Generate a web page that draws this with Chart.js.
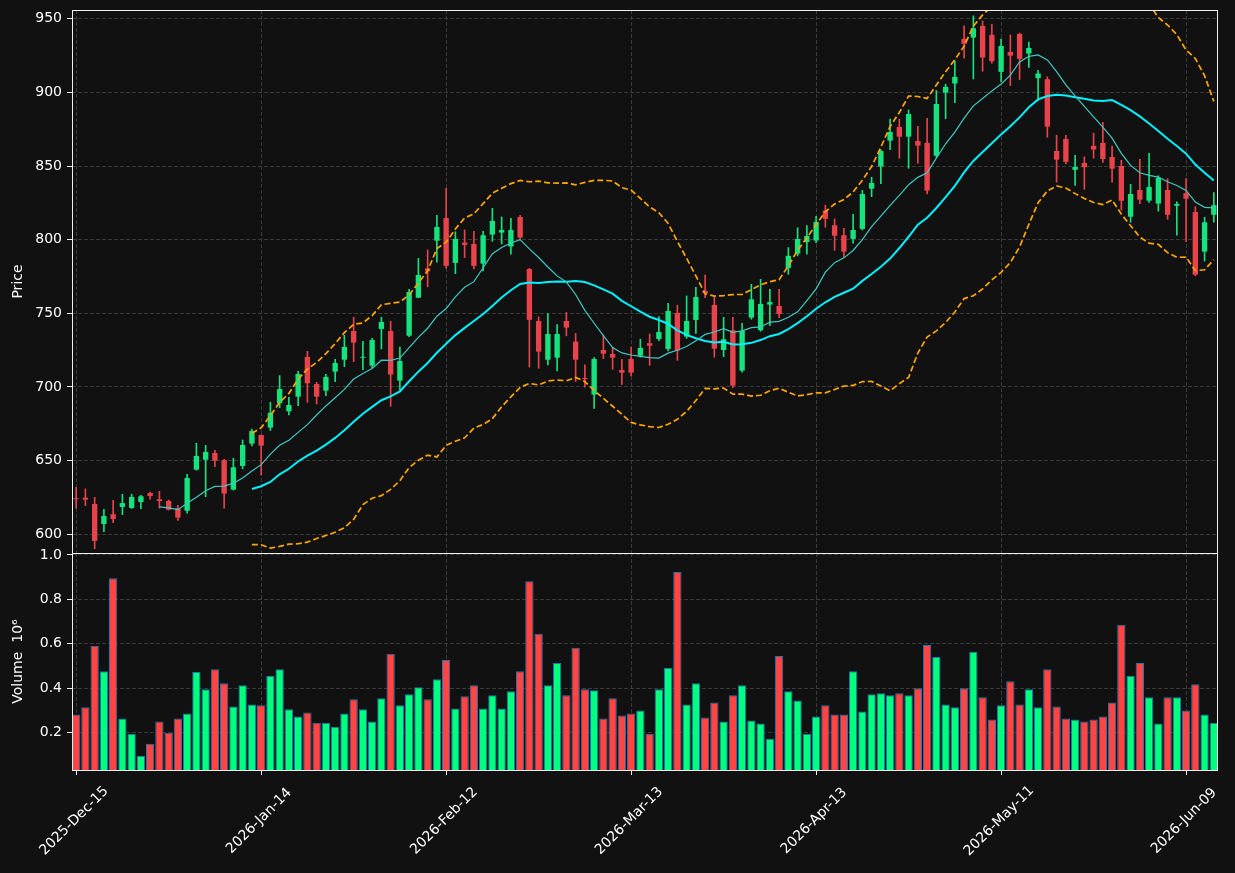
<!DOCTYPE html>
<html>
<head>
<meta charset="utf-8">
<title>Price and volume</title>
<script src="https://cdn.jsdelivr.net/npm/chart.js@4.4.1/dist/chart.umd.min.js"></script>
<style>
  html, body { margin: 0; padding: 0; background: #111111; }
  #wrap { position: relative; width: 1235px; height: 873px; }
  canvas { position: absolute; left: 0; }
  #priceChart { top: 0; }
  #volChart { top: 533px; }
</style>
</head>
<body>
<div id="wrap">
  <canvas id="priceChart" width="1235" height="553"></canvas>
  <canvas id="volChart" width="1235" height="340"></canvas>
</div>
<script>
// tick labels, one every 20 trading days
const tickEvery = 20;
const tickLabels = ['2025-Dec-15', '2026-Jan-14', '2026-Feb-12', '2026-Mar-13', '2026-Apr-13', '2026-May-11', '2026-Jun-09'];

// daily OHLC
const opens = [
  624.3, 624.8, 620.6, 607.0, 613.6, 618.5, 617.9, 621.9, 628.0, 623.8,
  622.6, 617.7, 616.0, 643.9, 650.6, 655.2, 650.4, 630.3, 646.4, 661.5,
  667.4, 672.4, 688.9, 683.5, 693.4, 720.4, 702.0, 697.5, 710.4, 718.5,
  738.0, 719.8, 714.5, 739.4, 738.0, 704.3, 734.8, 760.6, 780.5, 799.3,
  814.7, 784.2, 798.0, 797.1, 783.7, 803.4, 804.8, 795.3, 815.4, 780.1,
  744.8, 718.5, 719.9, 744.8, 730.8, 706.1, 694.8, 725.1, 722.4, 711.5,
  719.0, 721.2, 729.7, 732.6, 725.8, 750.3, 734.2, 745.5, 765.2, 755.7,
  725.1, 738.5, 711.1, 747.1, 738.5, 755.9, 755.0, 780.8, 790.5, 798.4,
  799.4, 819.7, 809.8, 803.0, 800.5, 807.3, 834.6, 849.6, 867.2, 876.5,
  869.9, 867.0, 865.7, 857.0, 899.8, 906.0, 936.3, 937.2, 945.1, 939.0,
  913.9, 927.4, 939.7, 926.3, 909.6, 908.9, 860.2, 868.4, 847.4, 852.1,
  863.7, 865.7, 856.1, 850.0, 815.6, 833.7, 826.5, 824.5, 833.7, 823.0,
  831.5, 818.8, 791.9, 816.9
];
const highs = [
  631.9, 630.8, 625.1, 617.0, 623.1, 627.2, 627.2, 626.5, 628.7, 629.2,
  623.3, 619.7, 640.7, 661.8, 660.4, 657.0, 650.9, 651.6, 664.0, 671.5,
  667.6, 689.6, 707.7, 693.0, 710.7, 724.2, 703.2, 708.6, 718.8, 735.1,
  747.3, 731.0, 733.0, 747.3, 744.6, 727.0, 766.3, 787.3, 793.0, 816.6,
  834.9, 805.4, 806.6, 805.7, 805.7, 821.3, 815.4, 814.5, 816.5, 780.5,
  747.6, 749.9, 742.3, 750.6, 736.4, 715.0, 720.0, 735.3, 727.0, 718.8,
  727.0, 732.4, 736.0, 747.8, 756.8, 755.5, 761.8, 767.7, 776.0, 761.3,
  747.3, 747.3, 743.2, 769.7, 773.1, 766.3, 766.3, 794.6, 808.1, 809.5,
  815.9, 823.4, 814.1, 807.7, 817.2, 833.5, 842.4, 861.0, 881.9, 881.7,
  888.0, 877.0, 882.4, 901.2, 905.5, 921.3, 945.1, 951.9, 948.5, 946.2,
  936.1, 939.0, 940.2, 934.2, 915.0, 910.6, 870.9, 870.9, 857.3, 856.2,
  872.3, 879.7, 863.6, 853.9, 837.6, 854.6, 858.6, 843.4, 841.4, 825.6,
  841.4, 822.4, 815.2, 831.9
];
const lows = [
  617.7, 619.4, 590.2, 601.8, 607.9, 613.3, 617.5, 617.4, 623.8, 617.7,
  616.5, 609.5, 614.3, 643.5, 625.5, 645.9, 617.7, 630.0, 644.5, 660.0,
  640.3, 670.5, 686.0, 681.0, 687.3, 689.6, 688.5, 694.1, 703.6, 713.8,
  717.2, 711.7, 713.0, 725.8, 686.9, 698.0, 734.1, 760.6, 768.1, 784.7,
  780.6, 776.9, 787.8, 780.1, 778.8, 798.9, 797.1, 790.1, 800.5, 713.5,
  712.7, 714.9, 710.9, 734.7, 703.7, 699.8, 685.5, 719.2, 712.0, 701.8,
  707.5, 720.2, 714.7, 731.4, 724.4, 718.1, 733.0, 736.4, 760.6, 720.2,
  720.6, 699.5, 710.0, 746.0, 737.8, 741.6, 747.1, 776.5, 789.0, 790.1,
  798.0, 808.4, 792.8, 788.1, 797.6, 806.5, 829.2, 838.0, 861.1, 855.3,
  848.5, 851.9, 831.0, 856.0, 882.1, 893.0, 923.2, 909.1, 914.3, 919.8,
  907.3, 904.6, 908.7, 917.0, 894.4, 869.5, 839.0, 851.4, 836.9, 834.2,
  855.3, 852.5, 839.0, 820.1, 811.8, 824.4, 825.3, 819.3, 813.8, 803.0,
  798.6, 775.5, 785.5, 811.8
];
const closes = [
  623.8, 623.5, 595.5, 612.4, 610.4, 621.2, 625.3, 625.8, 626.0, 622.6,
  616.7, 611.3, 638.2, 653.2, 655.9, 650.0, 627.6, 645.5, 660.6, 670.1,
  660.2, 682.5, 698.6, 687.8, 708.8, 702.5, 693.4, 706.8, 716.3, 727.2,
  730.1, 720.5, 731.9, 744.1, 708.4, 717.6, 764.5, 776.0, 778.5, 808.6,
  782.2, 800.5, 796.4, 782.2, 803.0, 812.7, 806.6, 806.6, 801.4, 745.6,
  724.0, 736.0, 736.0, 740.3, 718.5, 705.3, 719.0, 722.6, 719.9, 709.7,
  709.7, 726.5, 728.0, 737.3, 751.6, 724.7, 744.8, 761.1, 763.6, 726.0,
  732.4, 700.9, 738.0, 759.5, 756.4, 757.7, 749.6, 789.0, 800.5, 802.5,
  812.1, 814.1, 802.7, 791.9, 806.6, 831.0, 838.5, 860.2, 873.1, 869.9,
  885.3, 863.8, 833.3, 892.1, 903.7, 910.5, 932.9, 943.5, 923.6, 921.1,
  931.5, 924.9, 922.7, 930.1, 912.8, 876.7, 854.3, 852.8, 849.4, 849.2,
  861.2, 854.8, 848.2, 826.4, 831.0, 827.2, 835.8, 841.9, 816.9, 824.2,
  827.8, 776.2, 811.8, 823.4
];
// volume in millions of shares
const volumes = [
  0.282, 0.314, 0.591, 0.477, 0.895, 0.264, 0.195, 0.095, 0.150, 0.250,
  0.200, 0.264, 0.286, 0.473, 0.395, 0.486, 0.423, 0.318, 0.414, 0.327,
  0.323, 0.455, 0.486, 0.305, 0.273, 0.291, 0.245, 0.245, 0.227, 0.286,
  0.350, 0.305, 0.250, 0.355, 0.555, 0.323, 0.373, 0.405, 0.350, 0.441,
  0.527, 0.309, 0.364, 0.414, 0.309, 0.368, 0.309, 0.386, 0.477, 0.882,
  0.645, 0.414, 0.514, 0.368, 0.582, 0.395, 0.391, 0.264, 0.355, 0.277,
  0.286, 0.300, 0.195, 0.395, 0.491, 0.923, 0.327, 0.423, 0.268, 0.336,
  0.250, 0.368, 0.414, 0.255, 0.241, 0.173, 0.545, 0.386, 0.345, 0.195,
  0.273, 0.323, 0.282, 0.282, 0.477, 0.295, 0.373, 0.377, 0.368, 0.377,
  0.368, 0.400, 0.595, 0.541, 0.327, 0.314, 0.400, 0.564, 0.359, 0.259,
  0.323, 0.432, 0.327, 0.395, 0.314, 0.486, 0.318, 0.264, 0.259, 0.250,
  0.259, 0.273, 0.336, 0.686, 0.455, 0.514, 0.359, 0.241, 0.359, 0.359,
  0.300, 0.418, 0.282, 0.245
];

const TEXT = '#ffffff';
const GRID = '#3a3a3a';
const UP = '#16e27e', DOWN = '#e8434a';
const VOL_UP = '#00ff7f', VOL_DOWN = '#ff4444', VOL_EDGE = '#1f77b4';

Chart.defaults.font.family = '"DejaVu Sans", sans-serif';
Chart.defaults.font.size = 14;
Chart.defaults.color = TEXT;

const idx = closes.map((_, i) => i);
const isUp = idx.map(i => closes[i] >= opens[i]);

// moving averages and bands from the closes
function rollingMean(values, n) {
  return values.map((_, i) => {
    if (i < n - 1) return null;
    let s = 0;
    for (let k = i - n + 1; k <= i; k++) s += values[k];
    return s / n;
  });
}
function rollingStd(values, n) {
  const mean = rollingMean(values, n);
  return values.map((_, i) => {
    if (mean[i] === null) return null;
    let s = 0;
    for (let k = i - n + 1; k <= i; k++) s += (values[k] - mean[i]) ** 2;
    return Math.sqrt(s / n);
  });
}
const ma10 = rollingMean(closes, 10);
const ma20 = rollingMean(closes, 20);
const sd20 = rollingStd(closes, 20);
const upperBand = ma20.map((m, i) => m === null ? null : m + 2 * sd20[i]);
const lowerBand = ma20.map((m, i) => m === null ? null : m - 2 * sd20[i]);

const pts = arr => idx.map(i => ({ x: i, y: arr[i] }));

// no label overflow padding, the panels sit edge to edge
const noPad = s => { s.paddingTop = 0; s.paddingBottom = 0; s.paddingLeft = 0; s.paddingRight = 0; };

const framePlugin = {
  id: 'frame',
  afterDatasetsDraw(chart) {
    const { left, top, width, height } = chart.chartArea;
    const ctx = chart.ctx;
    ctx.save();
    ctx.strokeStyle = '#f0f0f0';
    ctx.lineWidth = 1;
    ctx.strokeRect(left + 0.5, top + 0.5, width - 1, height);
    ctx.restore();
  }
};

const xLabelPlugin = {
  id: 'xLabels',
  afterDraw(chart) {
    const xs = chart.scales.x;
    const ctx = chart.ctx;
    ctx.save();
    ctx.fillStyle = TEXT;
    ctx.font = '14px "DejaVu Sans"';
    ctx.textAlign = 'center';
    ctx.textBaseline = 'middle';
    xs.ticks.forEach(t => {
      const label = tickLabels[Math.round(t.value / tickEvery)];
      if (!label) return;
      const px = xs.getPixelForValue(t.value);
      ctx.save();
      ctx.translate(px - 2, chart.chartArea.bottom + 51);
      ctx.rotate(-Math.PI / 4);
      ctx.fillText(label, 0, 0);
      ctx.restore();
    });
    ctx.restore();
  }
};

const xScale = (grid, height) => ({
  type: 'linear',
  min: -0.45,
  max: 123.45,
  offset: false,
  ticks: { display: false, stepSize: tickEvery, includeBounds: false },
  grid: Object.assign({ color: GRID, offset: false }, grid),
  border: { display: false, dash: [4, 2] },
  afterFit: s => { noPad(s); s.height = height; }
});

new Chart(document.getElementById('priceChart'), {
  type: 'bar',
  data: {
    datasets: [
      {
        type: 'line', label: 'MA10', data: pts(ma10),
        borderColor: '#3fc9c4', borderWidth: 1.2, pointRadius: 0, order: 0
      },
      {
        type: 'line', label: 'MA20', data: pts(ma20),
        borderColor: '#00f2ff', borderWidth: 2, pointRadius: 0, order: 0
      },
      {
        type: 'line', label: 'Upper', data: pts(upperBand),
        borderColor: '#ffa500', borderWidth: 1.7, borderDash: [6, 3], pointRadius: 0, order: 0
      },
      {
        type: 'line', label: 'Lower', data: pts(lowerBand),
        borderColor: '#ffa500', borderWidth: 1.7, borderDash: [6, 3], pointRadius: 0, order: 0
      },
      {
        label: 'body', data: idx.map(i => ({ x: i, y: [opens[i], closes[i]] })),
        backgroundColor: idx.map(i => isUp[i] ? UP : DOWN),
        grouped: false, barPercentage: 0.58, categoryPercentage: 1, minBarLength: 1, order: 1
      },
      {
        label: 'wick', data: idx.map(i => ({ x: i, y: [lows[i], highs[i]] })),
        backgroundColor: idx.map(i => isUp[i] ? UP : DOWN),
        grouped: false, barThickness: 1, order: 2
      }
    ]
  },
  options: {
    responsive: false,
    animation: false,
    layout: { padding: { top: 10, right: 17, bottom: 0, left: 0 } },
    plugins: { legend: { display: false }, tooltip: { enabled: false } },
    scales: {
      x: xScale({ drawTicks: false }, 0),
      y: {
        min: 587.3,
        max: 955.9,
        ticks: { stepSize: 50, includeBounds: false, padding: 5, color: TEXT },
        grid: { color: GRID, tickColor: '#f0f0f0', tickLength: 5, tickBorderDash: [] },
        border: { display: false, dash: [4, 2] },
        title: { display: true, text: 'Price', color: TEXT, padding: { top: 10, bottom: 0 } },
        afterFit: s => { noPad(s); s.width = 72; }
      }
    }
  },
  plugins: [framePlugin]
});

new Chart(document.getElementById('volChart'), {
  type: 'bar',
  data: {
    datasets: [{
      label: 'Volume',
      data: idx.map(i => ({ x: i, y: volumes[i] })),
      backgroundColor: idx.map(i => isUp[i] ? VOL_UP : VOL_DOWN),
      borderColor: VOL_EDGE,
      borderWidth: 1,
      barPercentage: 0.9,
      categoryPercentage: 1
    }]
  },
  options: {
    responsive: false,
    animation: false,
    layout: { padding: { top: 20, right: 17, bottom: 0, left: 0 } },
    plugins: { legend: { display: false }, tooltip: { enabled: false } },
    scales: {
      x: xScale({ tickColor: '#f0f0f0', tickLength: 5, tickBorderDash: [] }, 103),
      y: {
        min: 0.032,
        max: 1.009,
        ticks: { stepSize: 0.2, includeBounds: false, padding: 5, color: TEXT, callback: v => v.toFixed(1) },
        grid: { color: GRID, tickColor: '#f0f0f0', tickLength: 5, tickBorderDash: [] },
        border: { display: false, dash: [4, 2] },
        title: { display: true, text: 'Volume  10⁶', color: TEXT, padding: { top: 10, bottom: 0 } },
        afterFit: s => { noPad(s); s.width = 72; }
      }
    }
  },
  plugins: [framePlugin, xLabelPlugin]
});
</script>
</body>
</html>
